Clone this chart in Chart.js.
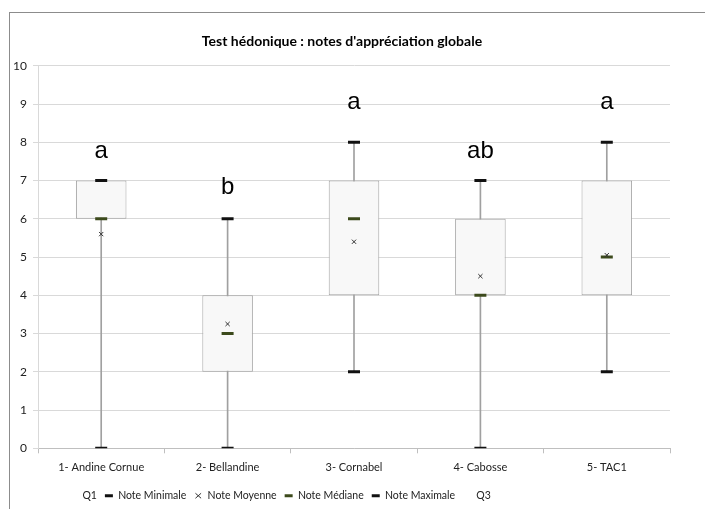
<!DOCTYPE html>
<html><head><meta charset="utf-8">
<script src="https://cdn.jsdelivr.net/npm/chart.js@4.4.0/dist/chart.umd.min.js"></script>
<style>
html,body{margin:0;padding:0;background:#fff;}
#wrap{position:relative;width:705px;height:509px;overflow:hidden;}
#frame{position:absolute;left:9px;top:12px;width:720px;height:520px;border-left:1px solid #8c8c8c;border-top:1px solid #8c8c8c;}
canvas{position:absolute;left:0;top:0;}
</style></head><body>
<div id="wrap"><div id="frame"></div><canvas id="c" width="705" height="509"></canvas></div>
<script>
const categories = ['1- Andine Cornue','2- Bellandine','3- Cornabel','4- Cabosse','5- TAC1'];
const noteMinimale = [0, 0, 2, 0, 2];
const q1 = [6, 2, 4, 4, 4];
const noteMediane = [6, 3, 6, 4, 5];
const q3 = [7, 4, 7, 6, 7];
const noteMaximale = [7, 6, 8, 7, 8];
const noteMoyenne = [5.6, 3.25, 5.4, 4.5, 5.05];
const groupLetters = ['a', 'b', 'a', 'ab', 'a'];
const letterLevel = [7.6, 6.65, 8.87, 7.6, 8.87];
const yMin = 0, yMax = 10, yStep = 1;

const FONT = '"Lato", sans-serif';
const legendItems = [
  {text:'Q1', style:'line', color:'rgba(0,0,0,0)', lw:0},
  {text:'Note Minimale', style:'line', color:'#111111', lw:3},
  {text:'Note Moyenne', style:'crossRot', color:'#333333', lw:1},
  {text:'Note Médiane', style:'line', color:'#3c4a1c', lw:3},
  {text:'Note Maximale', style:'line', color:'#111111', lw:3},
  {text:'Q3', style:'line', color:'rgba(0,0,0,0)', lw:0}
];

const letterPlugin = {
  id: 'letters',
  afterDatasetsDraw(chart) {
    const ctx = chart.ctx, xs = chart.scales.x, ys = chart.scales.y;
    ctx.save();
    ctx.font = '24px "Liberation Sans", Arial, sans-serif';
    ctx.fillStyle = '#000';
    ctx.textAlign = 'center';
    ctx.textBaseline = 'alphabetic';
    groupLetters.forEach((t, i) => {
      ctx.fillText(t, xs.getPixelForValue(i), ys.getPixelForValue(letterLevel[i]));
    });
    ctx.restore();
  }
};
const boxShift = {
  id: 'boxShift',
  afterLayout(chart) {
    const lg = chart.legend;
    if (lg) { lg.left -= 55; lg.right -= 55; }
    const tt = chart.titleBlock;
    if (tt) { tt.left += 7; tt.right += 7; }
  }
};

const lineSet = (label, data, style, color, radius, bw) => ({
  type: 'line', label, data, showLine: false, pointStyle: style,
  pointRadius: radius, pointBorderWidth: bw, pointBorderColor: color,
  pointBackgroundColor: color, borderColor: color, backgroundColor: color, order: 1
});

new Chart(document.getElementById('c'), {
  type: 'bar',
  data: {
    labels: categories,
    datasets: [
      { label: 'whisker', data: categories.map((c, i) => [noteMinimale[i], noteMaximale[i]]),
        backgroundColor: '#a0a0a0', borderWidth: 0, barThickness: 1, grouped: false, order: 3 },
      { label: 'box', data: categories.map((c, i) => [q1[i], q3[i]]),
        backgroundColor: '#f8f8f8', borderColor: '#a3a3a3', borderWidth: 1, borderSkipped: false,
        barPercentage: 0.4, categoryPercentage: 1, grouped: false, order: 2 },
      lineSet('Note Minimale', noteMinimale, 'line', '#111111', 6, 3),
      lineSet('Note Moyenne', noteMoyenne, 'crossRot', '#333333', 3, 1),
      lineSet('Note Médiane', noteMediane, 'line', '#3c4a1c', 6, 3),
      lineSet('Note Maximale', noteMaximale, 'line', '#111111', 6, 3)
    ]
  },
  options: {
    responsive: false, animation: false,
    layout: { padding: { left: 0, right: 35, top: 0, bottom: -2 } },
    plugins: {
      tooltip: { enabled: false },
      title: { display: true, text: "Test hédonique : notes d'appréciation globale",
        font: { family: FONT, size: 14, weight: 'bold' }, color: '#000',
        padding: { top: 33, bottom: 16 } },
      legend: {
        position: 'bottom',
        labels: {
          usePointStyle: true, pointStyleWidth: 8, boxHeight: 5, padding: 8,
          font: { family: FONT, size: 10.5 }, color: '#222',
          generateLabels: () => legendItems.map((it, i) => ({
            text: it.text, pointStyle: it.style, strokeStyle: it.color, fillStyle: it.color,
            lineWidth: it.lw, hidden: false, datasetIndex: i, fontColor: '#222'
          }))
        }
      }
    },
    scales: {
      x: {
        grid: { offset: true, drawOnChartArea: false, drawTicks: true, tickLength: 5, color: '#bfbfbf' },
        border: { color: '#bfbfbf' },
        ticks: { font: { family: FONT, size: 11 }, color: '#222', padding: 8 }
      },
      y: {
        min: yMin, max: yMax,
        afterFit(s) { s.width = 38; },
        ticks: { stepSize: yStep, font: { family: FONT, size: 12 }, color: '#222', padding: 6 },
        grid: { color: '#d9d9d9', tickLength: 5 },
        border: { color: '#d9d9d9' }
      }
    }
  },
  plugins: [letterPlugin, boxShift]
});
</script>
</body></html>
